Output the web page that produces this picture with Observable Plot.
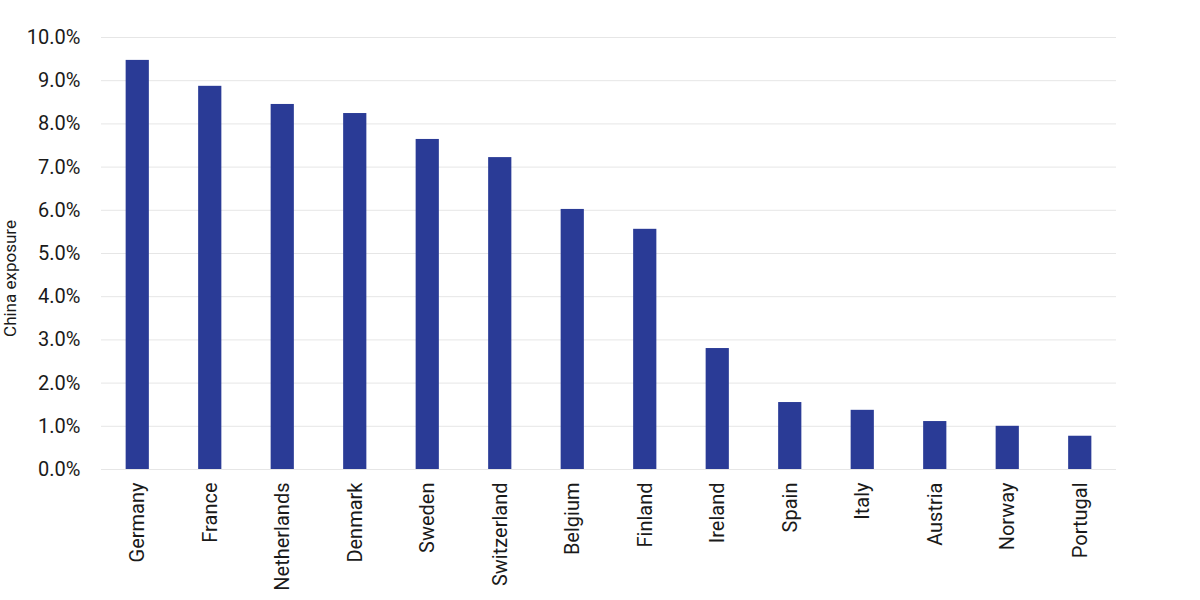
<!DOCTYPE html>
<html>
<head>
<meta charset="utf-8">
<script src="https://cdn.jsdelivr.net/npm/d3@7"></script>
<script src="https://cdn.jsdelivr.net/npm/@observablehq/plot@0.6"></script>
<style>
  html, body { margin: 0; padding: 0; background: #fff; }
  #chart { width: 1200px; height: 600px; }
  svg { font-family: Roboto, "Noto Sans", sans-serif; }
</style>
</head>
<body>
<div id="chart"></div>
<script>
const countries = ["Germany", "France", "Netherlands", "Denmark", "Sweden", "Switzerland", "Belgium", "Finland", "Ireland", "Spain", "Italy", "Austria", "Norway", "Portugal"];
const exposure = [9.47, 8.87, 8.45, 8.24, 7.64, 7.22, 6.02, 5.56, 2.80, 1.55, 1.37, 1.11, 1.00, 0.77];
const yTicks = [0, 1, 2, 3, 4, 5, 6, 7, 8, 9, 10];
const yTitle = "China exposure";

const data = countries.map((c, i) => ({country: c, value: exposure[i]}));

const chart = Plot.plot({
  width: 1200,
  height: 600,
  marginTop: 37,
  marginBottom: 131,
  marginLeft: 101,
  marginRight: 84,
  style: {fontFamily: "Roboto, sans-serif", fontSize: "20px", color: "#1a1a1a"},
  x: {domain: countries, paddingInner: 0.68, paddingOuter: 0.34, round: false},
  y: {domain: [0, 10]},
  marks: [
    Plot.gridY(yTicks, {stroke: "#e6e6e6", strokeOpacity: 1, strokeWidth: 1}),
    Plot.barY(data, {x: "country", y: "value", fill: "#2a3b96"}),
    Plot.axisY(yTicks, {tickSize: 0, tickPadding: 21, tickFormat: d => d.toFixed(1) + "%", label: null, fontSize: 20}),
    Plot.axisX({tickSize: 0, tickPadding: 13, tickRotate: -90, label: null, fontSize: 20}),
    Plot.text([yTitle], {frameAnchor: "left", textAnchor: "middle", rotate: -90, dx: -91, dy: 25, fontSize: 17, fill: "#1a1a1a"})
  ]
});
document.getElementById("chart").appendChild(chart);
</script>
</body>
</html>
